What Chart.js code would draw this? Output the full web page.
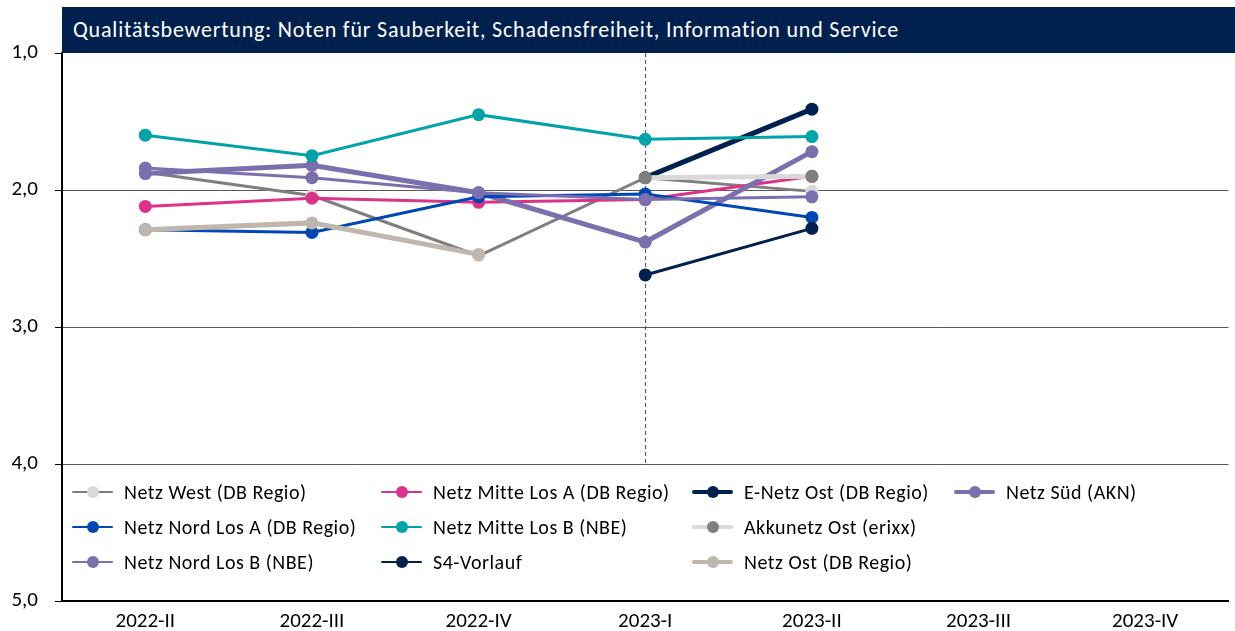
<!DOCTYPE html>
<html lang="de">
<head>
<meta charset="utf-8">
<title>Qualitätsbewertung</title>
<script src="https://cdn.jsdelivr.net/npm/chart.js@4.4.1/dist/chart.umd.min.js"></script>
<style>
  html, body { margin: 0; padding: 0; background: #fff; }
  #wrap { position: relative; width: 1235px; height: 631px; font-family: Carlito, Calibri, Lato, sans-serif; }
  #chart { position: absolute; left: 0; top: 0; }
  #title {
    position: absolute; left: 62px; top: 7px; width: 1173px; height: 46px;
    background: #00204e; color: #fff; font-size: 22px; letter-spacing: 0.8px; line-height: 46px;
    padding-left: 11px; box-sizing: border-box; white-space: nowrap;
  }
  #legend { position: absolute; left: 0; top: 0; width: 1235px; height: 631px; pointer-events: none; }
  .item { position: absolute; display: flex; align-items: center; height: 24px; font-size: 20px; letter-spacing: 0.5px; color: #000; white-space: nowrap; }
  .sym { position: relative; width: 41px; height: 14px; margin-right: 11px; }
  .sym .ln { position: absolute; left: 0; right: 0; top: 50%; border-radius: 2px; }
  .sym .dot { position: absolute; left: 50%; top: 50%; width: 12px; height: 12px; margin: -6px 0 0 -6px; border-radius: 50%; }
</style>
</head>
<body>
<div id="wrap">
  <canvas id="chart" width="1235" height="631"></canvas>
  <div id="title">Qualitätsbewertung: Noten für Sauberkeit, Schadensfreiheit, Information und Service</div>
  <div id="legend"></div>
</div>
<script>
const categories = ['2022-II', '2022-III', '2022-IV', '2023-I', '2023-II', '2023-III', '2023-IV'];
const yTicks = [1, 2, 3, 4, 5];

// Noten je Quartal (null = kein Wert)
const netzWest    = [1.87, 2.04, 2.48, 1.91, 2.01, null, null];
const netzMitteA  = [2.12, 2.06, 2.09, 2.07, 1.90, null, null];
const eNetzOst    = [null, null, null, 1.91, 1.41, null, null];
const netzSued    = [1.88, 1.82, 2.02, 2.38, 1.72, null, null];
const netzNordA   = [2.29, 2.31, 2.05, 2.03, 2.20, null, null];
const netzMitteB  = [1.60, 1.75, 1.45, 1.63, 1.61, null, null];
const akkunetzOst = [null, null, null, 1.91, 1.90, null, null];
const netzNordB   = [1.84, 1.91, 2.02, 2.07, 2.05, null, null];
const s4Vorlauf   = [null, null, null, 2.62, 2.28, null, null];
const netzOst     = [2.29, 2.24, 2.47, null, null, null, null];

// series in drawing order (later ones on top)
const series = [
  { label: 'Netz West (DB Regio)',       data: netzWest,    line: '#7f7f7f', dot: '#d9d9d9', w: 3 },
  { label: 'Netz Mitte Los A (DB Regio)', data: netzMitteA,  line: '#dc338a', dot: '#dc338a', w: 3 },
  { label: 'E-Netz Ost (DB Regio)',      data: eNetzOst,    line: '#00204e', dot: '#00204e', w: 5 },
  { label: 'Netz Süd (AKN)',             data: netzSued,    line: '#7b6fae', dot: '#7b6fae', w: 5 },
  { label: 'Netz Nord Los A (DB Regio)', data: netzNordA,   line: '#0047b5', dot: '#0047b5', w: 3 },
  { label: 'Netz Mitte Los B (NBE)',     data: netzMitteB,  line: '#00a3a8', dot: '#00a3a8', w: 3 },
  { label: 'Akkunetz Ost (erixx)',       data: akkunetzOst, line: '#d9d9d9', dot: '#7f7f7f', w: 5 },
  { label: 'Netz Nord Los B (NBE)',      data: netzNordB,   line: '#7b6fae', dot: '#7b6fae', w: 3 },
  { label: 'S4-Vorlauf',                 data: s4Vorlauf,   line: '#00204e', dot: '#00204e', w: 3 },
  { label: 'Netz Ost (DB Regio)',        data: netzOst,     line: '#bfb6ae', dot: '#bfb6ae', w: 5 }
];

// legend columns as in the original
const legendColumns = [
  ['Netz West (DB Regio)', 'Netz Nord Los A (DB Regio)', 'Netz Nord Los B (NBE)'],
  ['Netz Mitte Los A (DB Regio)', 'Netz Mitte Los B (NBE)', 'S4-Vorlauf'],
  ['E-Netz Ost (DB Regio)', 'Akkunetz Ost (erixx)', 'Netz Ost (DB Regio)'],
  ['Netz Süd (AKN)']
];
const legendX = [72, 381, 692, 954];
const legendY = [492, 527, 562];

const datasets = series.map((s, i) => ({
  label: s.label,
  data: s.data,
  borderColor: s.line,
  backgroundColor: s.dot,
  pointBackgroundColor: s.dot,
  pointBorderColor: s.dot,
  pointBorderWidth: 0,
  pointRadius: 6.5,
  borderWidth: s.w,
  order: series.length - i,
  spanGaps: false,
  tension: 0
}));

const markerLine = {
  id: 'markerLine',
  beforeDatasetsDraw(chart) {
    const { ctx, scales: { x, y } } = chart;
    const px = Math.round(x.getPixelForValue(3)) + 0.5;
    ctx.save();
    ctx.strokeStyle = '#4f5f82';
    ctx.lineWidth = 1.2;
    ctx.setLineDash([4, 3]);
    ctx.beginPath();
    ctx.moveTo(px, chart.chartArea.top);
    ctx.lineTo(px, y.getPixelForValue(4));
    ctx.stroke();
    ctx.restore();
  }
};

const fontFamily = 'Carlito, Calibri, Lato, sans-serif';

new Chart(document.getElementById('chart'), {
  type: 'line',
  data: { labels: categories, datasets },
  options: {
    responsive: false,
    animation: false,
    devicePixelRatio: 1,
    layout: { padding: { top: 53, right: 0, left: 0, bottom: 0 } },
    plugins: { legend: { display: false }, tooltip: { enabled: false }, title: { display: false } },
    scales: {
      x: {
        offset: true,
        grid: { display: false, drawTicks: false },
        border: { display: true, color: '#000', width: 2 },
        ticks: { color: '#000', font: { family: fontFamily, size: 21, lineHeight: 1 }, padding: 10, maxRotation: 0 },
        afterFit(scale) { scale.height = 30; }
      },
      y: {
        reverse: true,
        min: 1,
        max: 5,
        afterBuildTicks(scale) { scale.ticks = yTicks.map(v => ({ value: v })); },
        border: { display: true, color: '#000', width: 2 },
        grid: {
          color: ctx => (ctx.tick && (ctx.tick.value === 1 || ctx.tick.value === 5)) ? 'rgba(0,0,0,0)' : '#595959',
          tickColor: '#000',
          lineWidth: 1,
          tickLength: 7
        },
        ticks: {
          color: '#000',
          padding: 17,
          font: { family: fontFamily, size: 21 },
          callback: v => v.toFixed(1).replace('.', ',')
        },
        afterFit(scale) { scale.width = 62; }
      }
    }
  },
  plugins: [markerLine]
});

// legend
const legend = document.getElementById('legend');
legendColumns.forEach((col, ci) => {
  col.forEach((name, ri) => {
    const s = series.find(d => d.label === name);
    const item = document.createElement('div');
    item.className = 'item';
    item.style.left = legendX[ci] + 'px';
    item.style.top = (legendY[ri] - 12) + 'px';
    const sym = document.createElement('div');
    sym.className = 'sym';
    const ln = document.createElement('div');
    ln.className = 'ln';
    ln.style.height = (s.w - 0.5) + 'px';
    ln.style.marginTop = (-(s.w - 0.5) / 2) + 'px';
    ln.style.background = s.line;
    const dot = document.createElement('div');
    dot.className = 'dot';
    dot.style.background = s.dot;
    sym.appendChild(ln);
    sym.appendChild(dot);
    item.appendChild(sym);
    item.appendChild(document.createTextNode(name));
    legend.appendChild(item);
  });
});
</script>
</body>
</html>
